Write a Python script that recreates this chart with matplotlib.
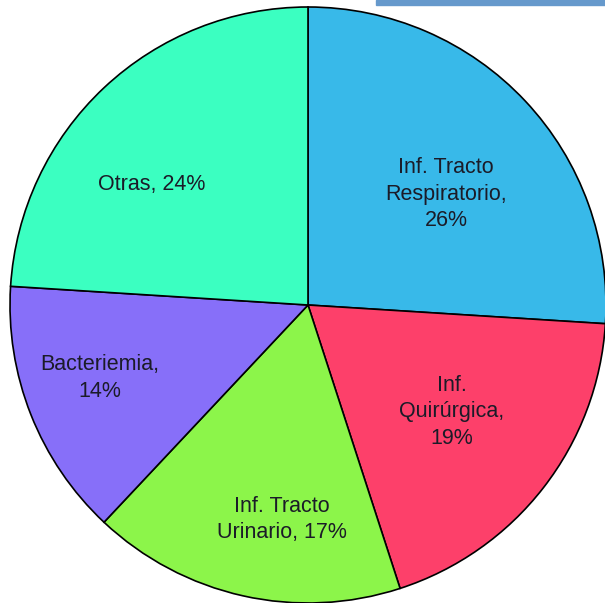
import matplotlib.pyplot as plt
from matplotlib.patches import Rectangle
import numpy as np

labels = ["Inf. Tracto\nRespiratorio,\n26%", "Inf.\nQuirúrgica,\n19%", "Inf. Tracto\nUrinario, 17%",
          "Bacteriemia,\n14%", "Otras, 24%"]
values = [26, 19, 17, 14, 24]
colors = ["#38B9E9", "#FD406A", "#8CF54A", "#876FF9", "#3BFFC1"]
# radial distance of each label (fraction of radius) and angular nudge
label_r = [0.594, 0.60, 0.725, 0.74, 0.66]
label_shift = [-4.4, 1.2, 5.6, -2.3, 9.2]  # degrees

plt.rcParams['font.family'] = ['Liberation Sans', 'DejaVu Sans']

fig = plt.figure(figsize=(6.05, 6.03), dpi=100)
fig.patches.append(Rectangle((376 / 605, 1 - 5 / 603), 229 / 605, 5 / 603,
                             transform=fig.transFigure, color="#6699CC", zorder=5))

ax = fig.add_axes([10 / 605, 0.0 / 603, 596 / 605, 596 / 603])
wedges, _ = ax.pie(values, colors=colors, startangle=90, counterclock=False,
                   wedgeprops=dict(edgecolor="black", linewidth=1.2))
for w, lab, r, sh in zip(wedges, labels, label_r, label_shift):
    ang = np.deg2rad((w.theta1 + w.theta2) / 2 + sh)
    ax.text(r * np.cos(ang), r * np.sin(ang), lab, ha="center", va="center",
            fontsize=15.5, color="#1b1b28", linespacing=1.35)
ax.set_xlim(-1.0, 1.0)
ax.set_ylim(-1.0, 1.0)
ax.set_aspect('equal')
ax.axis('off')

fig.savefig("out.png", dpi=100)
